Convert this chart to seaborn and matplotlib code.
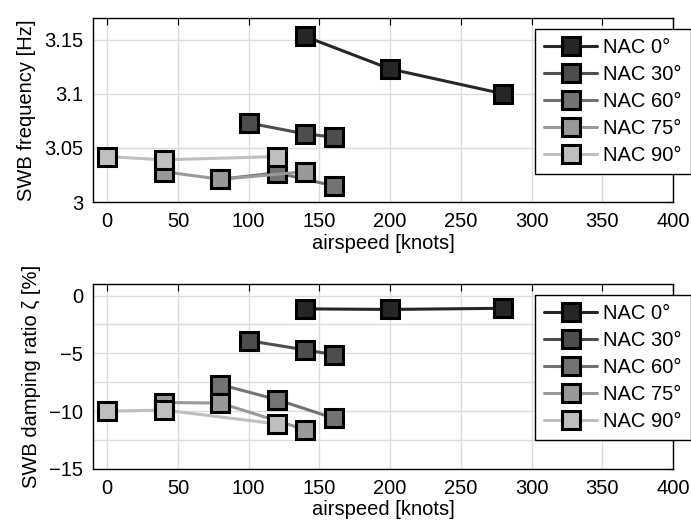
import matplotlib
matplotlib.use('Agg')
import matplotlib.pyplot as plt
import pandas as pd
import seaborn as sns
from matplotlib.ticker import MultipleLocator

# data
labels = ['NAC 0°', 'NAC 30°', 'NAC 60°', 'NAC 75°', 'NAC 90°']
colors = ['#262626', '#4d4d4d', '#737373', '#999999', '#bfbfbf']

speed_0 = [140, 200, 280]
speed_30 = [100, 140, 160]
speed_60 = [80, 120, 160]
speed_75 = [40, 80, 140]
speed_90 = [0, 40, 120]

freq_0 = [3.153, 3.123, 3.100]
freq_30 = [3.073, 3.063, 3.060]
freq_60 = [3.021, 3.027, 3.015]
freq_75 = [3.028, 3.021, 3.028]
freq_90 = [3.042, 3.039, 3.042]

damp_0 = [-1.15, -1.2, -1.1]
damp_30 = [-3.9, -4.7, -5.1]
damp_60 = [-7.7, -9.0, -10.6]
damp_75 = [-9.25, -9.3, -11.6]
damp_90 = [-10.0, -9.9, -11.1]

speeds = [speed_0, speed_30, speed_60, speed_75, speed_90]
freqs = [freq_0, freq_30, freq_60, freq_75, freq_90]
damps = [damp_0, damp_30, damp_60, damp_75, damp_90]

rows = []
for lab, sp, fr, dp in zip(labels, speeds, freqs, damps):
    for s, f, d in zip(sp, fr, dp):
        rows.append({'nac': lab, 'airspeed': s, 'freq': f, 'damp': d})
df = pd.DataFrame(rows)

sns.set_style('white')
plt.rcParams['font.family'] = ['Liberation Sans', 'DejaVu Sans']
fs = 14.5
plt.rcParams['font.size'] = fs
plt.rcParams['text.color'] = 'black'
plt.rcParams['axes.labelcolor'] = 'black'
plt.rcParams['xtick.color'] = 'black'
plt.rcParams['ytick.color'] = 'black'

fig = plt.figure(figsize=(6.91, 5.24), dpi=100)
ax1 = fig.add_axes([0.1346, 0.6145, 0.8394, 0.351])
ax2 = fig.add_axes([0.1346, 0.105, 0.8394, 0.353])

palette = dict(zip(labels, colors))
line_kw = dict(marker='s', markersize=12.5, markeredgecolor='black',
               markeredgewidth=2.2, linewidth=2.2)

for ax, col in [(ax1, 'freq'), (ax2, 'damp')]:
    sns.lineplot(data=df, x='airspeed', y=col, hue='nac', hue_order=labels,
                 palette=palette, legend=False, ax=ax, **line_kw)
    for ln, c in zip(ax.get_lines(), colors):
        ln.set_markerfacecolor(c)
    ax.set_xlim(-10, 400)
    ax.xaxis.set_major_locator(MultipleLocator(50))
    ax.set_xlabel('airspeed [knots]', labelpad=2, fontsize=fs)
    ax.grid(True, which='major', color='#dcdcdc', linewidth=1)
    ax.set_axisbelow(True)
    ax.tick_params(direction='in', top=True, right=True, length=5,
                   width=0.8, labelsize=fs, pad=7)
    for sp in ax.spines.values():
        sp.set_color('black')
        sp.set_linewidth(1)

ax1.set_ylim(3.0, 3.17)
ax1.set_yticks([3.0, 3.05, 3.1, 3.15])
ax1.set_yticklabels(['3', '3.05', '3.1', '3.15'])
ax1.set_ylabel('SWB frequency [Hz]', labelpad=6, fontsize=fs)

ax2.set_ylim(-15, 1)
ax2.set_yticks([-15, -10, -5, 0])
ax2.set_yticklabels(['\u221215', '\u221210', '\u22125', '0'])
ax2.yaxis.set_minor_locator(MultipleLocator(2.5))
ax2.grid(True, which='minor', axis='y', color='#dcdcdc', linewidth=1)
ax2.tick_params(which='minor', length=0)
ax2.set_ylabel('SWB damping ratio \u03b6 [%]', labelpad=6, fontsize=fs)

for ax, anchor in [(ax1, (1.0, 0.945)), (ax2, (1.0, 0.437))]:
    leg = ax.legend(ax.get_lines()[:5], labels, loc='upper right',
                    bbox_to_anchor=anchor, bbox_transform=fig.transFigure,
                    fancybox=False, framealpha=1, edgecolor='black',
                    handlelength=2.65, handletextpad=0.3, labelspacing=0.4,
                    borderpad=0.45, borderaxespad=0, fontsize=fs)
    leg.get_frame().set_linewidth(1)

fig.savefig('out.png', dpi=100)
